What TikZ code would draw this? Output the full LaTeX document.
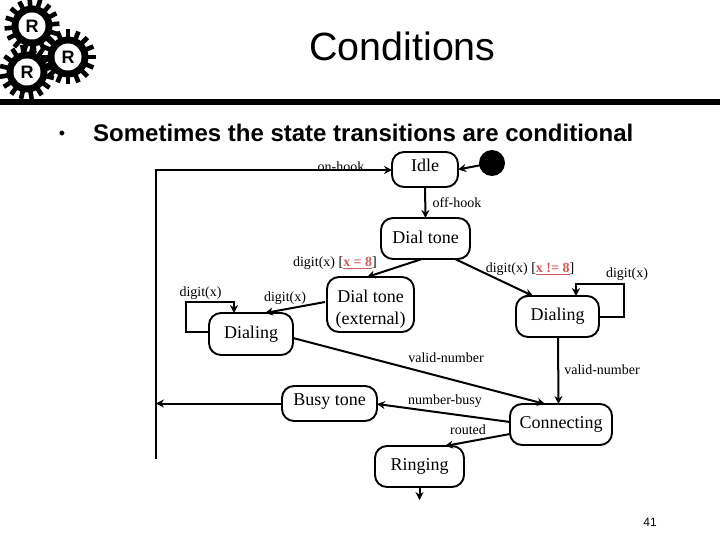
\documentclass[tikz,border=0pt]{standalone}
\usepackage{fontspec}
\setmainfont{Liberation Serif}
\newfontfamily\arialfont{Liberation Sans}
\usetikzlibrary{arrows.meta,calc}
\definecolor{condred}{HTML}{D4595F}
\newcommand{\cond}[1]{\textcolor{condred}{\underline{\textbf{#1}}}}
\newcommand{\gearshape}[4]{% x,y,rotation,name
  \fill[black] (#1,#2) circle (20.5);
  \foreach \a in {0,22.5,...,337.5}{
    \fill[black,rotate around={\a+#3:(#1,#2)}] (#1-2.3,#2-27.5) rectangle (#1+2.3,#2);
  }
  \fill[white] (#1,#2) circle (13.5);
  \node[gearletter] (#4) at (#1,#2) {R};
}
\tikzset{
  x=1pt,y=-1pt,
  state/.style={draw=black,line width=1.9pt,rounded corners=12pt,inner sep=0pt,outer sep=0pt,align=center,
    font=\fontsize{18}{22}\selectfont},
  lbl/.style={inner sep=0pt,font=\fontsize{14}{16}\selectfont},
  conn/.style={line width=2pt,-{Stealth[length=8pt,width=8pt]}},
  plainline/.style={line width=2pt},
  gearletter/.style={inner sep=0pt,font=\arialfont\bfseries\fontsize{18}{20}\selectfont},
}
\begin{document}
\begin{tikzpicture}
\path[use as bounding box,fill=white] (0,0) rectangle (720,540);
% gears
\gearshape{32}{26}{5}{gearA}
\gearshape{27}{72}{10}{gearB}
\gearshape{68}{57}{0}{gearC}
\fill[black] (0,99) rectangle (720,105);
% titles
\node[inner sep=0pt,font=\arialfont\fontsize{39.4}{44}\selectfont] (title) at (402.5,46) {Conditions};
\node[inner sep=0pt,font=\arialfont\fontsize{18}{20}\selectfont] (bullet) at (62,135) {•};
\node[inner sep=0pt,anchor=west,font=\arialfont\bfseries\fontsize{24}{28}\selectfont] (head) at (93,133) {Sometimes the state transitions are conditional};
% states
\node[state,minimum width=66pt,minimum height=35pt] (idle) at (425,169.5) {Idle\rule[-8pt]{0pt}{1pt}};
\fill[black] (492,163) circle (13);
\coordinate (start) at (492,163);
\node[state,minimum width=89pt,minimum height=41pt] (dial) at (425.5,238.5) {Dial tone\rule[-2pt]{0pt}{1pt}};
\node[state,minimum width=87pt,minimum height=55pt] (ext) at (370.5,304.5) {\rule{0pt}{22pt}Dial tone\\(external)};
\node[state,minimum width=84pt,minimum height=42pt] (dl) at (251,334) {Dialing};
\node[state,minimum width=83pt,minimum height=41pt] (dr) at (557.5,316.5) {Dialing};
\node[state,minimum width=95pt,minimum height=35pt] (busy) at (329.5,403.5) {Busy tone\rule[-7pt]{0pt}{1pt}};
\node[state,minimum width=89pt,minimum height=41pt] (ring) at (419.5,466.5) {Ringing};
\node[state,minimum width=102pt,minimum height=41pt] (conn) at (561,424.5) {Connecting};
% free ends
\coordinate (trunktop) at (156,170);
\coordinate (trunkbot) at (156,458);
\coordinate (trunkbusy) at (156,403.5);
\coordinate (ringout) at (419.5,500);
% connectors
\draw[plainline,line cap=rect] (trunkbot) -- (trunktop);
\draw[conn] (trunktop) -- (idle.west |- trunktop);
\draw[conn] (start) -- (idle.east);
\draw[conn] (idle.south) -- (dial.north);
\draw[conn] ($(dial.south)+(-3.5,0)$) -- ($(ext.north)+(-3.5,0)$);
\draw[conn] ($(dial.south)+(29.5,0)$) -- ($(dr.north)+(-24.5,0)$);
\draw[conn] ($(ext.west)+(-2,-2.5)$) -- ($(dl.north)+(14,0)$);
\draw[conn] ($(dl.west)+(0,-2)$) -- ++(-23,0) -- ++(0,-30) -- ($(dl.north)+(-17,-11)$) -- ($(dl.north)+(-17,0)$);
\draw[conn] (dr.east) -- ++(25,0) -- ++(0,-32.5) -- ($(dr.north)+(18.5,-12)$) -- ($(dr.north)+(18.5,0)$);
\draw[conn] ($(dl.east)+(0,4)$) -- ($(conn.north)+(-16,0)$);
\draw[conn] ($(dr.south)+(0.5,0)$) -- ($(conn.north)+(-2.5,0)$);
\draw[conn] ($(conn.west)+(0,-2.5)$) -- ($(busy.east)+(0,0.5)$);
\draw[conn] ($(conn.west)+(0,9.5)$) -- ($(ring.north)+(25.5,0)$);
\draw[conn] (busy.west) -- (trunkbusy);
\draw[conn] (ring.south) -- (ringout);
% labels
\node[lbl] (l1) at (341,167) {on-hook};
\node[lbl] (l2) at (457,203) {off-hook};
\node[lbl] (l3) at (335,263) {digit(x) [\cond{x = 8}]};
\node[lbl] (l4) at (530,269) {digit(x) [\cond{x != 8}]};
\node[lbl] (l5) at (627,274) {digit(x)};
\node[lbl] (l6) at (200.5,293) {digit(x)};
\node[lbl] (l7) at (285,298) {digit(x)};
\node[lbl] (l8) at (446,358) {valid-number};
\node[lbl] (l9) at (602,370) {valid-number};
\node[lbl] (l10) at (445,401) {number-busy};
\node[lbl] (l11) at (468,430) {routed};
\node[inner sep=0pt,anchor=east,font=\arialfont\fontsize{12}{14}\selectfont] (page) at (657,522) {41};
\end{tikzpicture}
\end{document}
